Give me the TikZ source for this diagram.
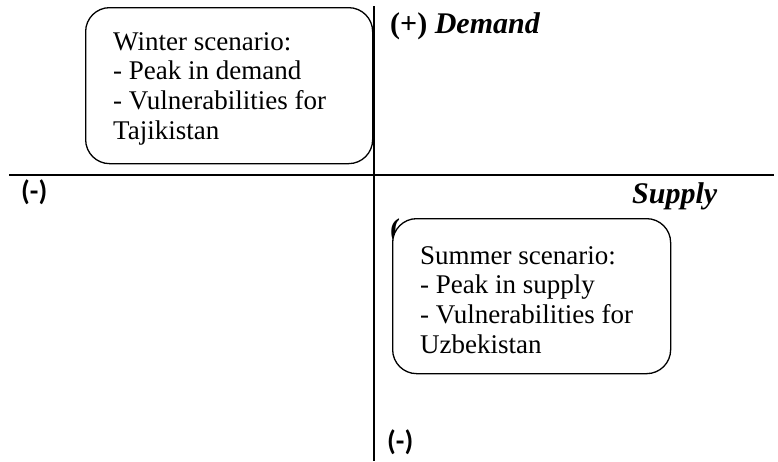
\documentclass[tikz,border=0pt]{standalone}
\usepackage{fontspec}
\setmainfont{Liberation Serif}
\newfontfamily\signfont{Carlito}
\usetikzlibrary{positioning}
\tikzset{
  axis/.style={line width=2pt, color=black},
  scenbox/.style={rectangle, draw=black, fill=white, line width=1.3pt, rounded corners=24pt,
    anchor=north west, inner sep=0pt},
  scentext/.style={align=left, anchor=north west, inner sep=0pt,
    font=\fontsize{27}{29.8}\selectfont},
  signlbl/.style={anchor=base west, inner sep=0pt, font=\signfont\bfseries\fontsize{28}{30}\selectfont},
  axislbl/.style={anchor=base west, inner sep=0pt, font=\bfseries\fontsize{30}{32}\selectfont}
}

\begin{document}
\begin{tikzpicture}[x=1pt, y=-1pt]
\useasboundingbox (0,0) rectangle (778,461);

% axes
\coordinate (west) at (9,175);
\coordinate (east) at (774,175);
\coordinate (north) at (374,6);
\coordinate (south) at (374,461);
\draw[axis] (west) -- (east);
\draw[axis] (north) -- (south);

% axis labels
\node[axislbl] (demand) at (390,33) {(+) \textit{Demand}};
\node[axislbl] (supply) at (632,203) {\textit{Supply}};
\node[axislbl] (plusright) at (390,239) {(+)};
\node[signlbl] (minusleft) at (21,200) {(-)};
\node[signlbl] (minusdown) at (387,450) {(-)};

% winter scenario
\node[scenbox, minimum width=287pt, minimum height=156pt] (winterbox) at (85,7) {};
\node[scentext] (wintertext) at (113,32)
  {Winter scenario:\\- Peak in demand\\- Vulnerabilities for\\Tajikistan};

% summer scenario
\node[scenbox, minimum width=278pt, minimum height=155pt] (summerbox) at (392,218) {};
\node[scentext] (summertext) at (420,246)
  {Summer scenario:\\- Peak in supply\\- Vulnerabilities for\\Uzbekistan};
\end{tikzpicture}
\end{document}
